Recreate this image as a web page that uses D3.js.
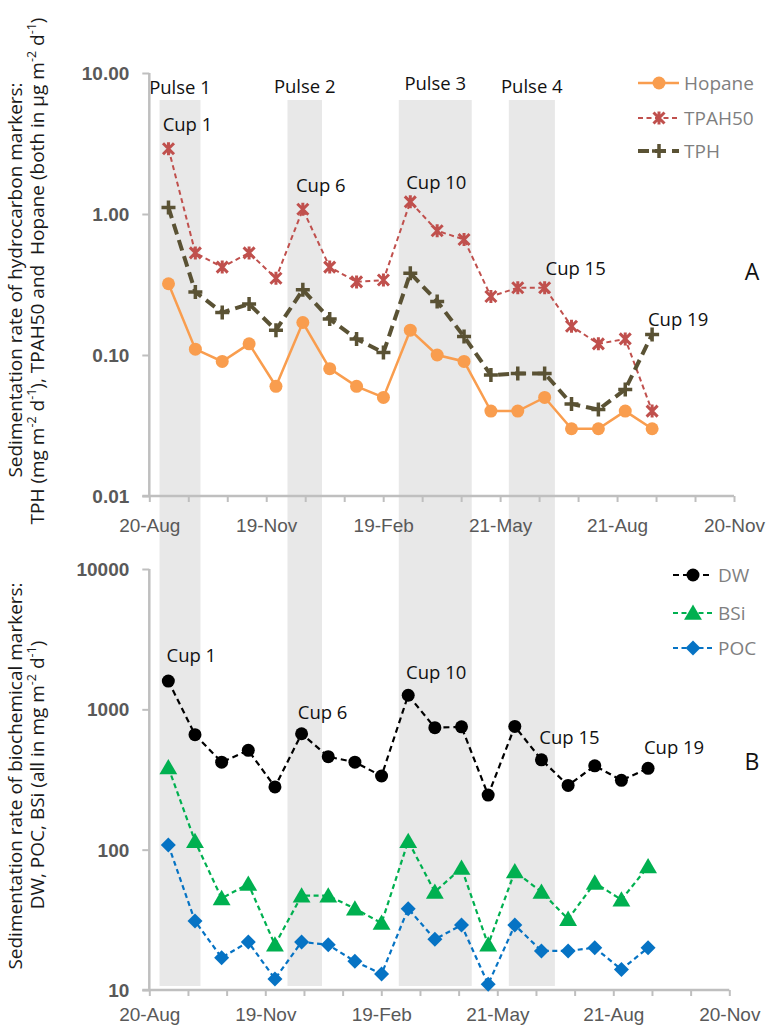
<!DOCTYPE html>
<html>
<head>
<meta charset="utf-8">
<script src="https://cdn.jsdelivr.net/npm/d3@7"></script>
<style>
  body { margin: 0; background: #fff; }
  svg { display: block; font-family: "Open Sans", "Noto Sans", sans-serif; }
  .title { white-space: pre; }
</style>
</head>
<body>
<svg id="chart" width="770" height="1027"></svg>
<script>
// ---- data -------------------------------------------------------------
// sampling date of each sediment-trap cup (cups 1..19)
const cupDates = ["2010-09-04", "2010-09-25", "2010-10-16", "2010-11-06", "2010-11-27",
                  "2010-12-18", "2011-01-08", "2011-01-29", "2011-02-19", "2011-03-12",
                  "2011-04-02", "2011-04-23", "2011-05-14", "2011-06-04", "2011-06-25",
                  "2011-07-16", "2011-08-06", "2011-08-27", "2011-09-17"];

// panel A: hydrocarbon markers
const hopane = [0.32, 0.11, 0.09, 0.12, 0.06, 0.17, 0.08, 0.06, 0.05, 0.15,
                0.10, 0.09, 0.04, 0.04, 0.05, 0.03, 0.03, 0.04, 0.03];
const tpah50 = [2.9, 0.53, 0.42, 0.53, 0.35, 1.08, 0.42, 0.33, 0.34, 1.22,
                0.76, 0.66, 0.26, 0.30, 0.30, 0.16, 0.12, 0.13, 0.04];
const tph    = [1.11, 0.28, 0.20, 0.23, 0.15, 0.29, 0.18, 0.13, 0.104, 0.38,
                0.24, 0.135, 0.072, 0.074, 0.074, 0.045, 0.041, 0.057, 0.14];

// panel B: biochemical markers
const dw  = [1590, 660, 420, 510, 280, 670, 460, 420, 335, 1260,
             740, 750, 245, 755, 437, 287, 396, 312, 380];
const bsi = [385, 115, 45, 57, 21, 47, 47, 38, 30, 115,
             50, 74, 21, 70, 50, 32, 58, 44, 76];
const poc = [108, 31, 17, 22, 12, 22, 21, 16, 13, 38,
             23, 29, 11, 29, 19, 19, 20, 14, 20];

// pulse periods (shaded)
const pulseNames  = ["Pulse 1", "Pulse 2", "Pulse 3", "Pulse 4"];
const pulseStarts = ["2010-08-28", "2010-12-06", "2011-03-03", "2011-05-28"];
const pulseEnds   = ["2010-09-29", "2011-01-02", "2011-04-29", "2011-07-03"];

// highlighted cups
const cupLabels = ["Cup 1", "Cup 6", "Cup 10", "Cup 15", "Cup 19"];
const cupIndexes = [0, 5, 9, 14, 18];

// axes
const xDomain = ["2010-08-20", "2011-11-20"];
const xTickLabels = ["20-Aug", "", "", "19-Nov", "", "", "19-Feb", "", "", "21-May",
                     "", "", "21-Aug", "", "", "20-Nov"];
const yTicksA = [0.01, 0.1, 1, 10];
const yTickLabelsA = ["0.01", "0.10", "1.00", "10.00"];
const yTicksB = [10, 100, 1000, 10000];
const yTickLabelsB = ["10", "100", "1000", "10000"];

// ---- drawing ------------------------------------------------------------
const parse = d3.timeParse("%Y-%m-%d");
const dates = cupDates.map(parse);
const svg = d3.select("#chart");

const AXIS = "#bfbfbf", TICKTXT = "#595959", LEGTXT = "#7f7f7f";
const colors = { hopane: "#f99d4e", tpah50: "#c0504d", tph: "#5a5234",
                 dw: "#000000", bsi: "#00b050", poc: "#0673c4" };

const xA = d3.scaleTime().domain(xDomain.map(parse)).range([149.3, 734]);
const xB = d3.scaleTime().domain(xDomain.map(parse)).range([149.3, 729.3]);
const yA = d3.scaleLog().domain([0.01, 10]).range([496, 73]);
const yB = d3.scaleLog().domain([10, 10000]).range([990, 569]);

// tick dates evenly spread over the date domain
function tickDates(x) {
  const [d0, d1] = x.domain();
  return xTickLabels.map((_, i) => new Date(+d0 + (d1 - d0) * i / (xTickLabels.length - 1)));
}

// shaded pulse bands spanning both panels
svg.append("g").selectAll("rect")
  .data(pulseNames)
  .join("rect")
  .attr("x", (d, i) => xA(parse(pulseStarts[i])))
  .attr("width", (d, i) => xA(parse(pulseEnds[i])) - xA(parse(pulseStarts[i])))
  .attr("y", 100)
  .attr("height", 886)
  .attr("fill", "#e8e8e8");

const pulseLabelY = [88, 87, 84, 87];
svg.append("g").selectAll("text")
  .data(pulseNames)
  .join("text")
  .attr("x", (d, i) => (xA(parse(pulseStarts[i])) + xA(parse(pulseEnds[i]))) / 2)
  .attr("y", (d, i) => pulseLabelY[i])
  .attr("dy", "0.35em")
  .attr("text-anchor", "middle")
  .attr("font-size", 18.5)
  .attr("fill", "#111")
  .text(d => d);

function drawAxes(x, y, yTicks, yLabels, yBase, labelOffset) {
  const gx = svg.append("g").attr("transform", `translate(0,${yBase})`)
    .call(d3.axisBottom(x).tickValues(tickDates(x)).tickSize(6)
      .tickFormat((d, i) => xTickLabels[i]));
  gx.select(".domain").attr("stroke", AXIS).attr("stroke-width", 2.5)
    .attr("d", `M${x.range()[0] - 7},0H${x.range()[1]}`);
  gx.selectAll(".tick line").attr("stroke", AXIS).attr("stroke-width", 2);
  gx.selectAll(".tick text").attr("y", labelOffset).attr("dy", "0.35em")
    .attr("font-size", 19).attr("fill", TICKTXT).attr("font-family", null);

  const gy = svg.append("g").attr("transform", `translate(${x.range()[0]},0)`)
    .call(d3.axisLeft(y).tickValues(yTicks).tickSize(7).tickPadding(13)
      .tickFormat((d, i) => yLabels[i]));
  gy.select(".domain").attr("stroke", AXIS).attr("stroke-width", 2.5)
    .attr("d", `M0,${y.range()[1]}V${y.range()[0]}`);
  gy.selectAll(".tick line").attr("stroke", AXIS).attr("stroke-width", 2);
  gy.selectAll(".tick text").attr("dy", "0.35em")
    .attr("font-size", 19).attr("font-weight", "bold").attr("fill", TICKTXT)
    .attr("font-family", null);
}
drawAxes(xA, yA, yTicksA, yTickLabelsA, 496, 29);
drawAxes(xB, yB, yTicksB, yTickLabelsB, 990, 24);

// ---- markers ----
const markerPath = {
  circle: r => d3.symbol(d3.symbolCircle, Math.PI * r * r)(),
  star: s => `M${-s},${-s}L${s},${s}M${-s},${s}L${s},${-s}M0,${-s - 1}L0,${s + 1}`,
  plus: s => `M${-s},0H${s}M0,${-s}V${s}`,
  triangle: s => `M0,${-s}L${s * 1.05},${s * 0.8}L${-s * 1.05},${s * 0.8}Z`,
  diamond: s => `M0,${-s}L${s},0L0,${s}L${-s},0Z`
};

const seriesA = [
  { name: "Hopane", values: hopane, color: colors.hopane, width: 2.5, dash: null,
    marker: "circle", msize: 6.5, filled: true },
  { name: "TPAH50", values: tpah50, color: colors.tpah50, width: 2, dash: "5,3.5",
    marker: "star", msize: 5.5, filled: false, mwidth: 3 },
  { name: "TPH", values: tph, color: colors.tph, width: 4, dash: "11,6",
    marker: "plus", msize: 7, filled: false, mwidth: 3.5 }
];
const seriesB = [
  { name: "DW", values: dw, color: colors.dw, width: 2.2, dash: "6,4",
    marker: "circle", msize: 6.5, filled: true },
  { name: "BSi", values: bsi, color: colors.bsi, width: 2.2, dash: "5,3.5",
    marker: "triangle", msize: 8.5, filled: true },
  { name: "POC", values: poc, color: colors.poc, width: 2.2, dash: "5,3.5",
    marker: "diamond", msize: 7.5, filled: true }
];

function drawMarker(g, s) {
  const p = g.append("path").attr("d", markerPath[s.marker](s.msize));
  if (s.filled) p.attr("fill", s.color).attr("stroke", "none");
  else p.attr("fill", "none").attr("stroke", s.color).attr("stroke-width", s.mwidth);
  return p;
}

function drawSeries(x, y, series) {
  series.forEach(s => {
    const line = d3.line().x((d, i) => x(dates[i])).y(d => y(d));
    svg.append("path")
      .attr("d", line(s.values))
      .attr("fill", "none")
      .attr("stroke", s.color)
      .attr("stroke-width", s.width)
      .attr("stroke-dasharray", s.dash);
    s.values.forEach((v, i) => {
      const g = svg.append("g").attr("transform", `translate(${x(dates[i])},${y(v)})`);
      drawMarker(g, s);
    });
  });
}
drawSeries(xA, yA, seriesA);
drawSeries(xB, yB, seriesB);

// ---- cup labels (anchored on a series point) ----
function drawCupLabels(x, y, values, offsets) {
  cupLabels.forEach((c, k) => {
    const i = cupIndexes[k];
    svg.append("text")
      .attr("x", x(dates[i]) + offsets[k][0])
      .attr("y", y(values[k]) + offsets[k][1])
      .attr("dy", "0.35em")
      .attr("text-anchor", "middle")
      .attr("font-size", 18.5)
      .attr("fill", "#111")
      .text(c);
  });
}
drawCupLabels(xA, yA, [tpah50[0], tpah50[5], tpah50[9], tpah50[14], tph[18]],
  [[19, -24], [18, -24], [26, -19], [31, -19], [26, -15]]);
drawCupLabels(xB, yB, [dw[0], dw[5], dw[9], dw[14], dw[18]],
  [[23, -26], [21, -21], [28, -23], [28, -22], [26, -21]]);

// ---- legends ----
function drawLegend(series, x0, x1, xm, ys) {
  series.forEach((s, k) => {
    const g = svg.append("g").attr("transform", `translate(0,${ys[k]})`);
    g.append("line").attr("x1", x0).attr("x2", x1).attr("y1", 0).attr("y2", 0)
      .attr("stroke", s.color).attr("stroke-width", s.width)
      .attr("stroke-dasharray", s.dash);
    const m = g.append("g").attr("transform", `translate(${xm},0)`);
    drawMarker(m, s);
    g.append("text").attr("x", x1 + 5).attr("y", 0).attr("dy", "0.35em")
      .attr("font-size", 19).attr("fill", LEGTXT).text(s.name);
  });
}
drawLegend(seriesA, 638, 679, 659, [83, 118, 151]);
drawLegend(seriesB, 673, 713, 693, [575, 613, 648]);

// ---- panel letters ----
svg.append("text").attr("x", 752).attr("y", 272).attr("dy", "0.35em")
  .attr("text-anchor", "middle").attr("font-size", 23).attr("fill", "#111").text("A");
svg.append("text").attr("x", 752).attr("y", 762).attr("dy", "0.35em")
  .attr("text-anchor", "middle").attr("font-size", 23).attr("fill", "#111").text("B");

// ---- axis titles with superscripts ----
function axisTitle(cx, cy, parts) {
  const t = svg.append("text")
    .attr("class", "title")
    .attr("transform", `translate(${cx},${cy}) rotate(-90)`)
    .attr("text-anchor", "middle")
    .attr("font-size", 19)
    .attr("fill", "#1a1a1a");
  parts.forEach(p => {
    if (typeof p === "string") {
      t.append("tspan").text(p);
    } else {
      t.append("tspan").attr("font-size", 12.5).attr("baseline-shift", "super").text(p.sup);
    }
  });
}
axisTitle(22, 280, ["Sedimentation rate of hydrocarbon markers:"]);
axisTitle(44, 271, ["TPH (mg m", { sup: "-2" }, " d", { sup: "-1" },
  "), TPAH50 and  Hopane (both in \u00b5g m", { sup: "-2" }, " d", { sup: "-1" }, ")"]);
axisTitle(22, 776, ["Sedimentation rate of biochemical markers:"]);
axisTitle(44, 775, ["DW, POC, BSi (all in mg m", { sup: "-2" }, " d", { sup: "-1" }, ")"]);
</script>
</body>
</html>
